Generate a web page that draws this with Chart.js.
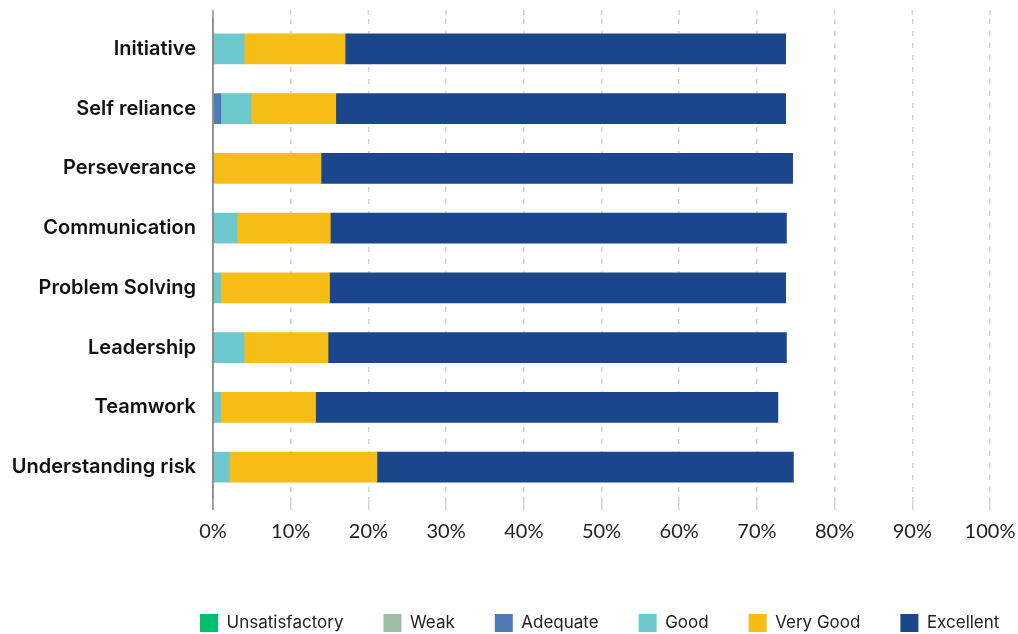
<!DOCTYPE html>
<html>
<head>
<meta charset="utf-8">
<script src="https://cdn.jsdelivr.net/npm/chart.js@4"></script>
<style>
  html, body { margin: 0; padding: 0; background: #ffffff; }
  canvas { display: block; }
</style>
</head>
<body>
<canvas id="c" width="1018" height="634"></canvas>
<script>
const categories = ['Initiative', 'Self reliance', 'Perseverance', 'Communication', 'Problem Solving', 'Leadership', 'Teamwork', 'Understanding risk'];
const seriesNames = ['Unsatisfactory', 'Weak', 'Adequate', 'Good', 'Very Good', 'Excellent'];
const unsatisfactory = [0, 0, 0, 0, 0, 0, 0, 0];
const weak = [0, 0, 0, 0, 0, 0, 0, 0];
const adequate = [0, 1.0, 0, 0, 0, 0, 0, 0];
const good = [4.0, 3.9, 0, 3.1, 1.0, 4.0, 1.0, 2.1];
const veryGood = [13.0, 10.9, 13.9, 12.0, 14.0, 10.8, 12.2, 19.0];
const excellent = [56.7, 57.9, 60.7, 58.7, 58.7, 59.0, 59.5, 53.6];
const xTicks = [0, 10, 20, 30, 40, 50, 60, 70, 80, 90, 100];

const seriesValues = [unsatisfactory, weak, adequate, good, veryGood, excellent];
const colors = ['#00BF6F', '#9DBEA5', '#4F7AB5', '#6CC8CC', '#F6BD16', '#1B468B'];
const GRID = '#d4d4d4';
const AXIS = '#8c8c8c';

const extendGrid = {
  id: 'extendGrid',
  afterLayout(chart) {
    const lg = chart.legend;
    if (lg) {
      lg.left += 160; lg.right += 160;
      lg.top += 8; lg.bottom += 8;
    }
  },
  beforeDatasetsDraw(chart) {
    const { ctx, chartArea, scales: { x } } = chart;
    ctx.save();
    ctx.strokeStyle = GRID;
    ctx.lineWidth = 1.5;
    ctx.setLineDash([5, 7]);
    x.ticks.forEach((t, i) => {
      if (i === 0) return;
      const px = x.getPixelForTick(i);
      ctx.beginPath();
      ctx.moveTo(px, chartArea.top - 9);
      ctx.lineTo(px, chartArea.top);
      ctx.stroke();
    });
    ctx.restore();
  },
  afterDatasetsDraw(chart) {
    const { ctx, chartArea } = chart;
    ctx.save();
    ctx.strokeStyle = AXIS;
    ctx.lineWidth = 1.5;
    ctx.beginPath();
    ctx.moveTo(chartArea.left, chartArea.top - 9);
    ctx.lineTo(chartArea.left, chartArea.bottom + 13);
    ctx.stroke();
    ctx.restore();
  }
};

new Chart(document.getElementById('c'), {
  type: 'bar',
  data: {
    labels: categories,
    datasets: seriesNames.map((name, i) => ({
      label: name,
      data: seriesValues[i],
      backgroundColor: colors[i],
      borderWidth: 0,
      barThickness: 30
    }))
  },
  options: {
    indexAxis: 'y',
    responsive: false,
    animation: false,
    layout: { padding: { left: 0, right: 28, top: 19, bottom: 0 } },
    scales: {
      x: {
        stacked: true,
        min: 0,
        max: 100,
        afterBuildTicks: s => { s.ticks = xTicks.map(v => ({ value: v })); },
        ticks: {
          callback: v => v + '%',
          font: { family: 'Lato', size: 20 },
          color: '#222',
          padding: 10,
          maxRotation: 0
        },
        grid: { color: GRID, lineWidth: 1.5, tickLength: 13, tickColor: GRID, tickWidth: 1.5 },
        border: { display: false, dash: [5, 7] },
        afterFit: s => { s.height = 69; s.paddingLeft = 0; s.paddingRight = 0; }
      },
      y: {
        stacked: true,
        ticks: {
          font: { family: 'Inter', size: 20, weight: '600' },
          color: '#111',
          padding: 17
        },
        grid: { display: false, drawTicks: false },
        border: { display: true, color: AXIS, width: 1.5 },
        afterFit: s => { s.width = 213; s.paddingTop = 0; s.paddingBottom = 0; }
      }
    },
    plugins: {
      legend: {
        position: 'bottom',
        align: 'start',
        labels: {
          boxWidth: 18,
          boxHeight: 18,
          padding: 40,
          font: { family: 'Inter', size: 17 },
          color: '#222'
        }
      },
      tooltip: { enabled: false }
    }
  },
  plugins: [extendGrid]
});
</script>
</body>
</html>
